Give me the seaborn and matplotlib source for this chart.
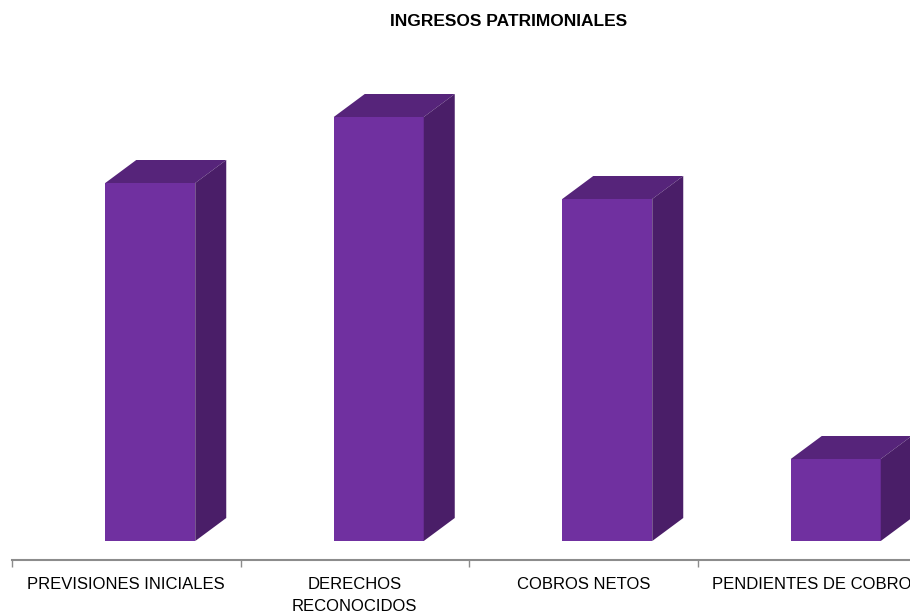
import matplotlib
matplotlib.use("Agg")
import matplotlib.pyplot as plt
from matplotlib.patches import Polygon
from matplotlib.ticker import FixedLocator
import seaborn as sns
import pandas as pd

categories = ["PREVISIONES INICIALES", "DERECHOS\nRECONOCIDOS", "COBROS NETOS", "PENDIENTES DE COBRO"]
values = [358, 424, 342, 82]
title = "INGRESOS PATRIMONIALES"

front_color = "#7030A0"
top_color = "#56247A"
side_color = "#4A1E68"

sns.set_theme(style="white")
plt.rcParams['font.family'] = ['Liberation Sans', 'DejaVu Sans']

W, H = 910, 616
fig = plt.figure(figsize=(W / 100, H / 100), dpi=100)
# axes: x from px 12 to 926, y baseline at px 541 (from top), 1 unit = 1 px
ax = fig.add_axes([12 / W, (H - 541) / H, 914 / W, 500 / H])
ax.patch.set_alpha(0)

df = pd.DataFrame({"cat": categories, "val": values})
sns.barplot(data=df, x="cat", y="val", color=front_color, width=90 / 228.5,
            saturation=1, ax=ax, zorder=2)

ax.set_xlim(-0.5, 3.5)
ax.set_ylim(0, 500)

shift = 24 / 228.5
dx = 31 / 228.5
dy = 23
for p in ax.patches[:len(values)]:
    p.set_x(p.get_x() + shift)
    p.set_edgecolor("none")
    x0 = p.get_x()
    x1 = x0 + p.get_width()
    h = p.get_height()
    top = Polygon([(x0, h), (x1, h), (x1 + dx, h + dy), (x0 + dx, h + dy)],
                  closed=True, facecolor=top_color, edgecolor="none", zorder=2, clip_on=False)
    side = Polygon([(x1, 0), (x1, h), (x1 + dx, h + dy), (x1 + dx, dy)],
                   closed=True, facecolor=side_color, edgecolor="none", zorder=2, clip_on=False)
    ax.add_patch(top)
    ax.add_patch(side)

for s in ["top", "right", "left"]:
    ax.spines[s].set_visible(False)
ax.spines["bottom"].set_position(("outward", 14))
ax.spines["bottom"].set_color("#8C8C8C")
ax.spines["bottom"].set_linewidth(1.5)

ax.set_yticks([])
ax.set_xlabel("")
ax.set_ylabel("")
ax.tick_params(axis="x", which="major", length=0, pad=12, labelsize=12, labelcolor="#000000")
ax.xaxis.set_minor_locator(FixedLocator([-0.5, 0.5, 1.5, 2.5, 3.5]))
ax.tick_params(axis="x", which="minor", bottom=True, direction="out", length=5,
               width=1, color="#8C8C8C")
for lbl in ax.get_xticklabels():
    lbl.set_linespacing(1.55)
    lbl.set_verticalalignment("top")

fig.text(509 / W, 1 - 22 / H, title, ha="center", va="center",
         fontsize=12.5, fontweight="bold", color="#000000")

fig.savefig("out.png", dpi=100)
